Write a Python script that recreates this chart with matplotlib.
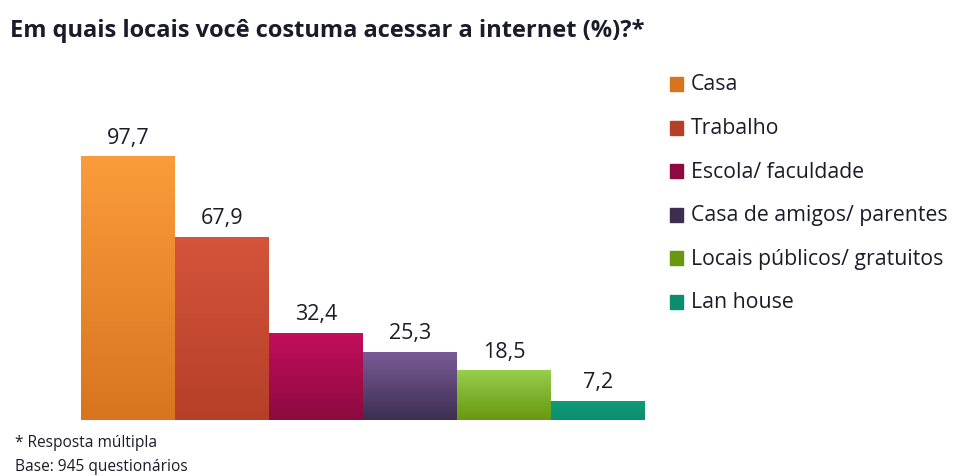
import numpy as np
import matplotlib
matplotlib.use("Agg")
import matplotlib.pyplot as plt
from matplotlib.patches import Rectangle
from matplotlib.colors import LinearSegmentedColormap

categories = [
    "Casa",
    "Trabalho",
    "Escola/ faculdade",
    "Casa de amigos/ parentes",
    "Locais públicos/ gratuitos",
    "Lan house",
]
values = [97.7, 67.9, 32.4, 25.3, 18.5, 7.2]
value_labels = ["97,7", "67,9", "32,4", "25,3", "18,5", "7,2"]

# (top colour, bottom colour) for the vertical gradient of each bar
top_colors = ["#FA9C3C", "#D5543B", "#C30E5C", "#7B5B98", "#97CE4C", "#0F9C7A"]
bottom_colors = ["#D8741E", "#B63F28", "#8C0A40", "#3D2E50", "#679810", "#0C8E6E"]

plt.rcParams["font.family"] = ["Open Sans", "DejaVu Sans"]
text_color = "#1b1b2a"

fig = plt.figure(figsize=(9.56, 4.77), dpi=100)
ax = fig.add_axes([81 / 956, 56 / 477, 564 / 956, 300 / 477])

x = np.arange(len(values))
bars = ax.bar(x, values, width=1.0, color=bottom_colors, edgecolor="none")
ax.set_xlim(-0.5, len(values) - 0.5)
ax.set_ylim(0, 300 / 2.70)

grad = np.linspace(0, 1, 256).reshape(-1, 1)
for bar, c_top, c_bot in zip(bars, top_colors, bottom_colors):
    cmap = LinearSegmentedColormap.from_list("g", [c_bot, c_top])
    bx, by = bar.get_x(), bar.get_y()
    bw, bh = bar.get_width(), bar.get_height()
    im = ax.imshow(grad, extent=[bx, bx + bw, by, by + bh], origin="lower",
                   cmap=cmap, aspect="auto", zorder=2)
    im.set_clip_path(bar)

for xi, v, lab in zip(x, values, value_labels):
    ax.text(xi, v + 5.0, lab, ha="center", va="baseline", fontsize=15.5,
            color=text_color)

ax.set_aspect("auto")
ax.axis("off")

# title
fig.text(10 / 956, 1 - 37 / 477, "Em quais locais você costuma acessar a internet (%)?*",
         fontsize=17, fontweight="bold", color=text_color, va="baseline", ha="left")

# legend drawn by hand
legend_y0 = 85
legend_step = 43.6
for i, (cat, c_top, c_bot) in enumerate(zip(categories, top_colors, bottom_colors)):
    yc = legend_y0 + i * legend_step
    fig.patches.append(Rectangle((670 / 956, 1 - (yc + 7) / 477), 13 / 956, 14 / 477,
                                 transform=fig.transFigure, color=c_bot, zorder=3))
    fig.text(691 / 956, 1 - yc / 477, cat, fontsize=15.3, color=text_color,
             va="center", ha="left")

# footnote
fig.text(15 / 956, 1 - 443 / 477, "* Resposta múltipla", fontsize=11.2,
         color=text_color, va="center", ha="left")
fig.text(15 / 956, 1 - 467 / 477, "Base: 945 questionários", fontsize=11.2,
         color=text_color, va="center", ha="left")

fig.savefig("out.png", dpi=100)
